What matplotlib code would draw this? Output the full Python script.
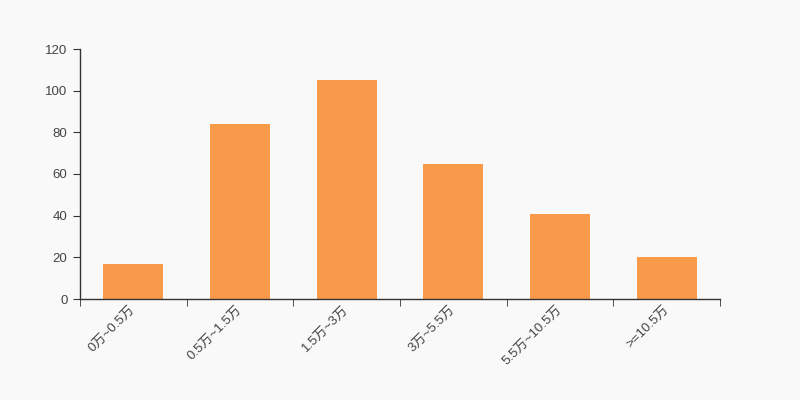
import matplotlib.pyplot as plt
import numpy as np

plt.rcParams['font.family'] = ['Liberation Sans', 'Noto Sans CJK SC', 'DejaVu Sans']

categories = ['0万~0.5万', '0.5万~1.5万', '1.5万~3万', '3万~5.5万', '5.5万~10.5万', '>=10.5万']
values = [17, 84, 105, 65, 41, 20]

bg = '#f9f9f9'
fig = plt.figure(figsize=(8, 4), dpi=100, facecolor=bg)
ax = fig.add_axes([0.1, 0.2525, 0.8, 0.625], facecolor=bg)

x = np.arange(len(categories))
ax.bar(x, values, width=0.56, color='#f99a4a')

ax.set_xlim(-0.5, len(categories) - 0.5)
ax.set_ylim(0, 120)
ax.set_yticks(range(0, 121, 20))

# 标签在类目中心，刻度线在边界
ax.set_xticks(x)
ax.set_xticklabels(categories, rotation=45, ha='right', va='center', rotation_mode='anchor')
ax.tick_params(axis='x', which='major', length=0, pad=6)
ax.set_xticks(np.arange(-0.5, len(categories)), minor=True)
ax.tick_params(axis='x', which='minor', length=5, color='#333333', direction='out')
ax.tick_params(axis='y', length=5, color='#333333', direction='out', pad=4)
ax.tick_params(labelsize=9.5, labelcolor='#444444')

for s in ['top', 'right']:
    ax.spines[s].set_visible(False)
for s in ['left', 'bottom']:
    ax.spines[s].set_color('#333333')
    ax.spines[s].set_linewidth(1)

fig.savefig('out.png', facecolor=bg)
